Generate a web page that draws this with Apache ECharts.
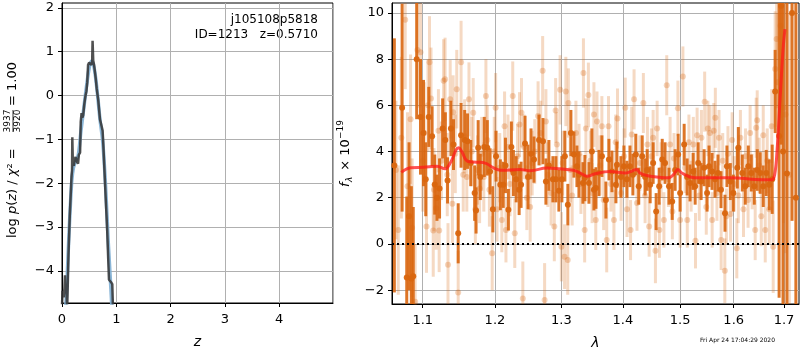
<!DOCTYPE html>
<html>
<head>
<meta charset="utf-8">
<script src="https://cdn.jsdelivr.net/npm/echarts@6/dist/echarts.min.js"></script>
<style>
  html, body { margin: 0; padding: 0; background: #fff; }
  #chart { width: 800px; height: 350px; }
</style>
</head>
<body>
<div id="chart"></div>
<script>
// left panel: log p(z)
const zTicks = [0, 1, 2, 3, 4];
const pzTicks = [-4, -3, -2, -1, 0, 1, 2];
const pzData = [[0.0,-4.8],[0.01,-4.45],[0.03,-4.6],[0.045,-4.4],[0.055,-4.1],[0.065,-4.5],[0.08,-4.4],[0.095,-4.9],
  [0.12,-3.6],[0.143,-2.75],[0.175,-1.85],[0.185,-1.7],[0.19,-0.95],[0.2,-1.55],[0.217,-1.6],[0.235,-1.45],
  [0.25,-1.4],[0.27,-1.5],[0.296,-1.55],[0.31,-1.35],[0.333,-1.3],[0.345,-0.6],[0.36,-0.4],[0.375,-0.5],
  [0.39,-0.45],[0.41,-0.2],[0.433,0.0],[0.45,0.1],[0.465,0.3],[0.48,0.7],[0.5,0.75],[0.52,0.78],[0.54,0.7],
  [0.555,0.75],[0.563,1.25],[0.575,0.8],[0.59,0.7],[0.605,0.55],[0.62,0.4],[0.64,0.15],[0.667,-0.1],
  [0.685,-0.35],[0.7,-0.55],[0.72,-0.65],[0.748,-0.8],[0.76,-1.1],[0.778,-1.6],[0.805,-2.35],[0.833,-3.1],
  [0.85,-3.7],[0.865,-4.2],[0.9,-4.25],[0.926,-4.3],[0.94,-4.9],[0.96,-5.5]];
const pzSmooth = [[0.04,-5.2],[0.08,-4.6],[0.1,-4.0],[0.12,-3.4],[0.15,-2.6],[0.18,-1.95],[0.21,-1.65],[0.25,-1.5],
  [0.3,-1.35],[0.35,-0.8],[0.4,-0.3],[0.45,0.2],[0.5,0.62],[0.54,0.78],[0.58,0.7],[0.62,0.4],[0.66,-0.05],
  [0.7,-0.55],[0.75,-1.05],[0.8,-2.0],[0.85,-3.3],[0.9,-4.4],[0.93,-5.1]];

// right panel: spectrum [lambda, flux, err]
const lamTicks = [1.1, 1.2, 1.3, 1.4, 1.5, 1.6, 1.7];
const fluxTicks = [-2, 0, 2, 4, 6, 8, 10];
const binned = [[1.063,3.4,5.5],[1.073,5.9,4.5],[1.079,-1.45,3.5],[1.082,1.2,3.2],[1.085,-1.5,4.0],[1.0875,-1.4,3.0],
  [1.092,8.0,2.6],[1.097,5.5,2.5],[1.101,4.8,2.3],[1.104,2.8,1.6],[1.108,5.5,1.3],[1.1125,4.66,1.3],[1.116,2.57,1.3],
  [1.119,2.0,1.0],[1.1225,2.4,1.3],[1.1267,5.0,1.3],[1.1304,4.5,1.2],[1.1334,2.75,1.0],[1.138,5.0,1.2],[1.1415,4.3,1.1],
  [1.148,0.46,1.3],[1.152,4.7,1.4],[1.157,4.5,1.3],[1.161,4.45,1.2],[1.1655,3.5,1.0],[1.171,2.2,1.2],[1.173,1.45,1.0],
  [1.176,4.16,1.2],[1.179,2.9,1.0],[1.1847,4.2,1.3],[1.189,4.16,1.2],[1.193,3.14,1.0],[1.197,1.5,1.0],[1.2016,3.8,1.1],
  [1.2078,2.56,1.1],[1.212,2.56,1.0],[1.2153,3.4,1.2],[1.2196,1.48,0.9],[1.224,4.2,1.1],[1.227,3.07,1.0],[1.2311,2.8,1.0],
  [1.2355,2.35,1.1],[1.2384,2.56,1.0],[1.2443,4.35,1.2],[1.2488,2.9,1.4],[1.2533,3.9,1.1],[1.2578,3.65,1.0],[1.2654,4.5,1.1],
  [1.2715,4.45,1.0],[1.276,2.7,1.0],[1.2806,3.4,1.1],[1.2868,2.8,1.0],[1.2915,2.8,1.0],[1.2961,2.3,0.9],[1.3008,2.8,1.0],
  [1.3055,3.8,1.1],[1.3102,1.7,0.9],[1.315,4.8,1.0],[1.3198,3.87,1.0],[1.3246,3.36,0.9],[1.3278,3.0,1.0],[1.3342,2.64,0.9],
  [1.3374,2.85,1.0],[1.3439,2.64,0.9],[1.3487,4.0,1.0],[1.352,2.35,0.9],[1.3553,2.42,0.9],[1.3602,3.07,1.0],[1.3651,3.8,0.9],
  [1.3717,1.9,0.8],[1.3767,3.65,0.9],[1.3817,3.14,0.9],[1.3883,2.56,0.8],[1.39,3.43,1.0],[1.3967,2.9,0.9],[1.4018,3.36,0.9],
  [1.4068,2.8,0.8],[1.412,3.36,0.9],[1.417,3.0,0.9],[1.422,3.87,0.9],[1.427,2.5,0.8],[1.433,3.8,0.9],[1.438,2.9,0.8],
  [1.4416,3.2,0.9],[1.4468,2.56,0.8],[1.452,3.5,0.9],[1.4573,1.4,0.8],[1.4626,2.5,0.8],[1.468,3.65,0.9],[1.473,3.5,0.9],
  [1.48,2.5,0.8],[1.4857,1.84,0.8],[1.491,3.2,0.9],[1.4964,3.87,0.9],[1.5,2.2,0.8],[1.5073,4.3,0.9],[1.5127,2.9,0.8],
  [1.518,2.64,0.8],[1.5237,3.14,0.8],[1.5274,2.5,0.8],[1.533,3.5,0.9],[1.5384,2.7,0.8],[1.544,3.3,0.8],[1.5495,2.2,0.8],
  [1.5532,3.36,0.9],[1.5588,3.14,0.8],[1.5644,2.8,0.8],[1.57,3.07,0.8],[1.5757,2.35,0.8],[1.5833,1.33,0.8],[1.587,3.36,0.9],
  [1.5935,2.7,0.8],[1.5993,2.2,0.8],[1.607,3.3,0.9],[1.609,4.16,0.9],[1.6167,3.07,0.8],[1.6225,2.5,0.8],[1.6284,3.36,0.9],
  [1.6343,3.07,0.8],[1.6402,2.5,0.8],[1.6461,3.2,0.9],[1.652,3.07,0.9],[1.658,2.5,0.9],[1.664,3.07,1.0],[1.67,2.56,1.1],
  [1.676,2.8,1.5],[1.682,6.6,1.8],[1.69,4.67,7.0],[1.694,10.3,6.0],[1.698,4.0,8.0],[1.706,3.05,8.0],[1.7165,10.0,9.0],
  [1.7245,2.0,9.0]];
const unbinned = [[1.065,3.2,3.0],[1.068,0.6,2.8],[1.072,4.6,3.5],[1.077,9.7,3.0],[1.08,2.5,3.2],[1.084,5.4,2.8],
  [1.086,0.7,3.0],[1.09,-2.5,2.5],[1.093,8.4,2.5],[1.097,8.3,2.4],[1.1,3.6,2.2],[1.102,4.8,2.2],[1.105,0.75,2.0],
  [1.107,6.0,2.0],[1.109,7.86,2.0],[1.111,6.3,2.2],[1.114,0.58,2.0],[1.115,2.35,1.8],[1.118,1.55,1.8],[1.121,4.9,1.8],
  [1.122,0.58,1.8],[1.125,3.6,1.7],[1.128,7.06,1.8],[1.13,7.13,1.8],[1.133,3.0,1.8],[1.134,-0.9,1.8],[1.137,6.26,1.7],
  [1.14,1.74,1.7],[1.141,5.7,1.6],[1.144,3.9,1.7],[1.146,6.7,1.7],[1.148,-2.1,1.8],[1.152,7.86,1.8],[1.155,3.0,1.6],
  [1.157,4.66,1.6],[1.16,2.9,1.5],[1.163,6.26,1.6],[1.167,4.0,1.5],[1.169,5.68,1.5],[1.172,1.5,1.5],[1.175,3.2,1.5],
  [1.178,2.4,1.5],[1.181,3.9,1.6],[1.184,2.9,1.5],[1.187,6.4,1.6],[1.189,4.5,1.5],[1.192,2.35,1.6],[1.196,-0.4,1.6],
  [1.199,4.0,1.5],[1.201,5.9,1.5],[1.203,1.5,1.4],[1.207,3.3,1.5],[1.21,1.04,1.4],[1.214,5.1,1.5],[1.216,0.6,1.4],
  [1.219,4.2,1.4],[1.222,2.6,1.4],[1.226,6.4,1.5],[1.229,0.46,1.5],[1.233,3.8,1.4],[1.236,5.17,1.4],[1.239,5.68,1.5],
  [1.241,-2.36,1.6],[1.243,4.2,1.4],[1.247,2.0,1.4],[1.252,1.6,1.5],[1.255,3.5,1.4],[1.259,4.0,1.4],[1.264,5.54,1.5],
  [1.268,4.8,1.4],[1.271,7.5,1.5],[1.274,-2.43,1.6],[1.276,5.3,1.4],[1.279,3.0,1.4],[1.284,2.2,1.4],[1.289,0.75,1.5],
  [1.291,5.78,1.4],[1.293,4.3,1.4],[1.298,6.67,1.5],[1.3,-0.12,1.5],[1.302,3.5,1.4],[1.305,-0.55,1.4],[1.307,6.6,1.5],
  [1.31,-0.7,1.5],[1.311,6.1,1.5],[1.314,3.2,1.4],[1.317,2.1,1.3],[1.323,4.8,1.4],[1.328,3.9,1.3],[1.331,2.6,1.3],
  [1.335,7.4,1.5],[1.337,0.6,1.4],[1.339,5.0,1.3],[1.343,6.45,1.4],[1.346,3.6,1.3],[1.349,2.2,1.3],[1.352,5.6,1.4],
  [1.355,1.04,1.3],[1.357,5.3,1.3],[1.362,3.4,1.3],[1.365,5.1,1.3],[1.368,1.9,1.3],[1.373,0.17,1.4],[1.376,5.1,1.3],
  [1.38,2.6,1.2],[1.385,1.04,1.3],[1.388,4.4,1.2],[1.391,5.43,1.3],[1.397,2.2,1.2],[1.402,3.8,1.2],[1.404,5.9,1.3],
  [1.407,1.5,1.2],[1.413,0.6,1.3],[1.415,4.74,1.2],[1.419,6.26,1.3],[1.424,1.77,1.2],[1.429,3.5,1.2],[1.435,6.1,1.3],
  [1.438,2.1,1.2],[1.442,4.3,1.2],[1.445,0.75,1.3],[1.449,3.8,1.2],[1.452,4.6,1.2],[1.456,-0.3,1.4],[1.459,5.0,1.2],
  [1.463,0.6,1.2],[1.466,3.2,1.2],[1.471,1.04,1.2],[1.476,6.87,1.3],[1.479,2.8,1.2],[1.482,4.3,1.2],[1.486,1.4,1.2],
  [1.489,3.7,1.1],[1.496,5.87,1.2],[1.5,1.04,1.2],[1.505,7.25,1.3],[1.509,3.3,1.1],[1.513,1.04,1.2],[1.516,4.4,1.2],
  [1.52,2.5,1.1],[1.524,4.3,1.2],[1.528,0.14,1.2],[1.531,4.7,1.2],[1.535,2.1,1.1],[1.539,4.6,1.2],[1.545,6.16,1.3],
  [1.548,1.6,1.2],[1.551,5.0,1.2],[1.555,4.8,1.2],[1.559,1.04,1.2],[1.562,4.9,1.2],[1.565,5.46,1.3],[1.568,2.2,1.2],
  [1.572,4.6,1.2],[1.576,0.17,1.3],[1.579,3.6,1.2],[1.583,-1.16,1.4],[1.586,1.2,1.2],[1.589,3.9,1.2],[1.594,1.3,1.2],
  [1.597,4.5,1.2],[1.601,2.6,1.2],[1.606,-0.19,1.3],[1.609,2.1,1.2],[1.613,4.6,1.2],[1.619,1.5,1.2],[1.623,3.8,1.2],
  [1.628,1.9,1.2],[1.632,4.8,1.2],[1.636,2.7,1.2],[1.642,0.6,1.3],[1.644,5.03,1.3],[1.646,5.35,1.3],[1.65,3.4,1.2],
  [1.654,1.2,1.3],[1.658,4.7,1.3],[1.662,0.6,1.4],[1.666,3.6,1.4],[1.67,1.5,1.5],[1.675,5.1,1.6],[1.678,-0.12,2.0],
  [1.682,7.57,2.5],[1.685,8.87,3.0],[1.687,7.0,3.0],[1.693,9.45,4.0],[1.699,5.9,5.0],[1.703,5.6,6.0],[1.711,3.0,7.0]];
const model = [[1.072,3.1],[1.084,3.3],[1.101,3.32],[1.119,3.36],[1.13,3.25],[1.137,3.5],[1.1487,4.16],[1.153,4.0],
  [1.161,3.58],[1.174,3.54],[1.186,3.5],[1.198,3.29],[1.208,3.19],[1.237,3.22],[1.252,3.17],[1.2775,3.29],
  [1.298,3.25],[1.319,3.19],[1.33,3.07],[1.3406,2.93],[1.354,3.04],[1.378,3.14],[1.404,3.07],[1.412,3.12],
  [1.424,3.22],[1.429,3.07],[1.441,2.96],[1.458,2.9],[1.479,2.86],[1.488,3.0],[1.496,3.22],[1.503,3.07],
  [1.518,2.9],[1.536,2.86],[1.593,2.86],[1.658,2.78],[1.675,2.78],[1.681,3.0],[1.686,4.1],[1.692,6.3],
  [1.698,8.4],[1.702,9.3]];

const ORANGE = '#d9660f';
const GRIDC = '#b0b0b0';
const FONT = 'DejaVu Sans';
const minus = v => String(v).replace('-', '\u2212');

function errBar(opacity, w) {
  return function (params, api) {
    const x = api.value(0), f = api.value(1), e = api.value(2);
    const top = api.coord([x, f + e]);
    const bot = api.coord([x, f - e]);
    const cs = params.coordSys;
    const shape = echarts.graphic.clipRectByRect(
      { x: top[0] - w / 2, y: top[1], width: w, height: bot[1] - top[1] },
      { x: cs.x, y: cs.y, width: cs.width, height: cs.height });
    return shape && { type: 'rect', shape: shape, style: { fill: ORANGE, opacity: opacity } };
  };
}

const axisCommon = {
  axisLine: { show: true, onZero: false, lineStyle: { color: '#000', width: 1 } },
  axisTick: { show: true, inside: false, length: 4, lineStyle: { color: '#000' } },
  splitLine: { show: true, lineStyle: { color: GRIDC, width: 1 } },
  axisLabel: { color: '#000', fontFamily: FONT, fontSize: 13 }
};
const nameStyle = { fontFamily: FONT, fontSize: 14, fontStyle: 'italic', color: '#000' };

const chart = echarts.init(document.getElementById('chart'), null, { renderer: 'canvas' });
chart.setOption({
  animation: false,
  backgroundColor: '#fff',
  grid: [
    { left: 62, top: 3, width: 271, height: 300, outerBoundsMode: 'none', containLabel: false,
      show: true, borderColor: '#000', borderWidth: 1 },
    { left: 392, top: 3, width: 407, height: 301, outerBoundsMode: 'none', containLabel: false,
      show: true, borderColor: '#000', borderWidth: 1 }
  ],
  xAxis: [
    Object.assign({}, axisCommon, {
      type: 'value', gridIndex: 0, min: 0, max: 4.99, interval: 1,
      axisLabel: Object.assign({}, axisCommon.axisLabel, { margin: 10, showMaxLabel: false }),
      name: 'z', nameLocation: 'middle', nameGap: 32, nameTextStyle: nameStyle
    }),
    Object.assign({}, axisCommon, {
      type: 'log', logBase: 10, gridIndex: 1, min: 1.06, max: 1.731,
      axisTick: Object.assign({}, axisCommon.axisTick, { customValues: lamTicks }),
      axisLabel: Object.assign({}, axisCommon.axisLabel, { margin: 10, customValues: lamTicks, formatter: v => Number(v).toFixed(1) }),
      name: 'λ', nameLocation: 'middle', nameGap: 32, nameTextStyle: nameStyle
    })
  ],
  yAxis: [
    Object.assign({}, axisCommon, {
      type: 'value', gridIndex: 0, min: -4.73, max: 2.11,
      axisTick: Object.assign({}, axisCommon.axisTick, { customValues: pzTicks }),
      axisLabel: Object.assign({}, axisCommon.axisLabel, { margin: 8, customValues: pzTicks, formatter: minus })
    }),
    Object.assign({}, axisCommon, {
      type: 'value', gridIndex: 1, min: -2.6, max: 10.43,
      axisTick: Object.assign({}, axisCommon.axisTick, { customValues: fluxTicks }),
      axisLabel: Object.assign({}, axisCommon.axisLabel, { margin: 8, customValues: fluxTicks, formatter: minus })
    })
  ],
  series: [
    { type: 'line', xAxisIndex: 0, yAxisIndex: 0, data: pzSmooth, showSymbol: false, smooth: 0.3,
      lineStyle: { color: '#7eaed3', width: 3.5, opacity: 0.9 }, z: 2 },
    { type: 'line', xAxisIndex: 0, yAxisIndex: 0, data: pzData, showSymbol: false,
      lineStyle: { color: '#333333', width: 2.5, opacity: 0.85 }, z: 3 },
    // faint unbinned spectrum
    { type: 'custom', xAxisIndex: 1, yAxisIndex: 1, data: unbinned, renderItem: errBar(0.25, 3),
      encode: { x: 0, y: 1 }, z: 2 },
    { type: 'scatter', xAxisIndex: 1, yAxisIndex: 1, data: unbinned.map(p => [p[0], p[1]]), symbolSize: 6,
      itemStyle: { color: ORANGE, opacity: 0.28 }, z: 2 },
    // binned spectrum
    { type: 'custom', xAxisIndex: 1, yAxisIndex: 1, data: binned, renderItem: errBar(0.9, 3),
      encode: { x: 0, y: 1 }, z: 3 },
    { type: 'scatter', xAxisIndex: 1, yAxisIndex: 1, data: binned.map(p => [p[0], p[1]]), symbolSize: 6,
      itemStyle: { color: ORANGE, opacity: 0.95 }, z: 3 },
    { type: 'line', xAxisIndex: 1, yAxisIndex: 1, data: model, showSymbol: false, smooth: 0.4,
      lineStyle: { color: '#ff1a1a', width: 3, opacity: 0.75 }, z: 4,
      markLine: { silent: true, symbol: 'none', label: { show: false },
        lineStyle: { color: '#000', type: [2, 3], width: 2, opacity: 1 },
        data: [{ yAxis: 0 }] } }
  ],
  graphic: [
    { type: 'text', right: 800 - 318, top: 14, style: { text: 'j105108p5818', font: '12px "DejaVu Sans"', fill: '#000', textAlign: 'right' } },
    { type: 'text', right: 800 - 318, top: 29, style: { text: 'ID=1213   z=0.5710', font: '12px "DejaVu Sans"', fill: '#000', textAlign: 'right' } },
    { type: 'text', left: 700, top: 337, style: { text: 'Fri Apr 24 17:04:29 2020', font: '6px "DejaVu Sans"', fill: '#000' } },
    // left y label, rotated
    { type: 'group', x: 13, y: 238, rotation: Math.PI / 2, children: [
      { type: 'text', x: 0, y: 0, style: {
        text: '{n|log }{i|p}{n|(}{i|z}{n|) / }{i|χ}{n|² =}',
        textAlign: 'left', textVerticalAlign: 'middle',
        rich: { n: { font: '13px "DejaVu Sans"', fill: '#000' }, i: { font: 'italic 13px "DejaVu Sans"', fill: '#000' } } } },
      { type: 'text', x: 117, y: -5, style: { text: '3937', font: '9px "DejaVu Sans"', fill: '#000', textAlign: 'center', textVerticalAlign: 'middle' } },
      { type: 'line', shape: { x1: 106, y1: 0, x2: 128, y2: 0 }, style: { stroke: '#000', lineWidth: 0.8 } },
      { type: 'text', x: 117, y: 5, style: { text: '3920', font: '9px "DejaVu Sans"', fill: '#000', textAlign: 'center', textVerticalAlign: 'middle' } },
      { type: 'text', x: 132, y: 0, style: { text: '= 1.00', font: '13px "DejaVu Sans"', fill: '#000', textAlign: 'left', textVerticalAlign: 'middle' } }
    ] },
    // right y label, rotated
    { type: 'group', x: 346, y: 187, rotation: Math.PI / 2, children: [
      { type: 'text', x: 0, y: 0, style: { text: 'f', font: 'italic 13px "DejaVu Sans"', fill: '#000', textVerticalAlign: 'middle' } },
      { type: 'text', x: 5, y: 4, style: { text: 'λ', font: 'italic 9px "DejaVu Sans"', fill: '#000', textVerticalAlign: 'middle' } },
      { type: 'text', x: 12, y: 0, style: { text: ' × 10', font: '13px "DejaVu Sans"', fill: '#000', textVerticalAlign: 'middle' } },
      { type: 'text', x: 48, y: -5, style: { text: '\u221219', font: '9px "DejaVu Sans"', fill: '#000', textVerticalAlign: 'middle' } }
    ] }
  ]
});
</script>
</body>
</html>
